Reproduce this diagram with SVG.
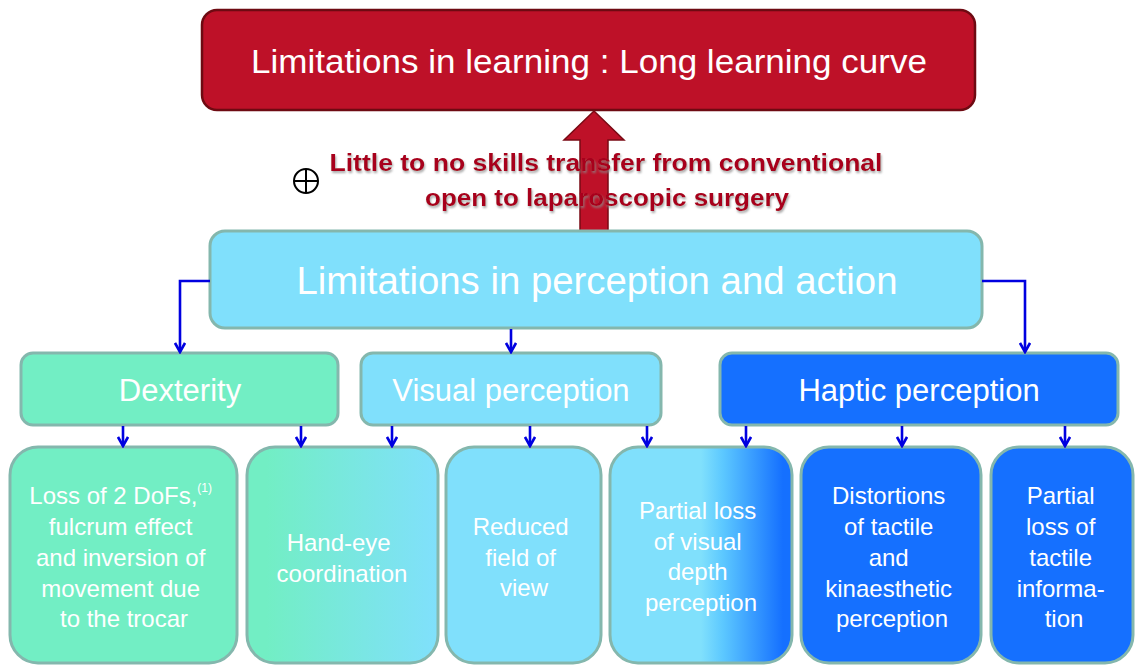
<svg xmlns="http://www.w3.org/2000/svg" width="1135" height="666" viewBox="0 0 1135 666">
  <style>
    .lbl { font-family: "Liberation Sans", Arial, sans-serif; fill: #ffffff; text-anchor: middle; }
    .box { stroke: #84B7AD; stroke-width: 3; }
    .mint { fill: #72EEC4; }
    .cyan { fill: #80E0FC; }
    .blue { fill: #1570FF; }
    .conn { fill: none; stroke: #0000E0; stroke-width: 2.6; marker-end: url(#arr); }
    .sub { font-family: "Liberation Sans", Arial, sans-serif; font-weight: bold; fill: #A8001C; text-anchor: middle; font-size: 23px; }
  </style>
  <defs>
    <marker id="arr" viewBox="0 0 12 12" refX="10" refY="6" markerWidth="12" markerHeight="12" markerUnits="userSpaceOnUse" orient="auto">
      <path d="M1,1 L10,6 L1,11" fill="none" stroke="#0000E0" stroke-width="2.6" stroke-linejoin="miter"/>
    </marker>
    <linearGradient id="gMintCyan" x1="0" y1="0" x2="1" y2="0">
      <stop offset="0.1" stop-color="#72EEC4"/>
      <stop offset="1" stop-color="#80E0FC"/>
    </linearGradient>
    <linearGradient id="gCyanBlue" x1="0" y1="0" x2="1" y2="0">
      <stop offset="0.5" stop-color="#80E0FC"/>
      <stop offset="0.62" stop-color="#5CC8FF"/>
      <stop offset="0.95" stop-color="#1570FF"/>
    </linearGradient>
    <filter id="txtShadow" x="-5%" y="-30%" width="110%" height="160%">
      <feDropShadow dx="1" dy="2" stdDeviation="1.2" flood-color="#8a8a8a" flood-opacity="0.75"/>
    </filter>
  </defs>

  <!-- top: learning limitations -->
  <g id="learning">
    <rect x="202" y="10" width="773" height="100" rx="15" fill="#BE1128" stroke="#6E0A12" stroke-width="2.5"/>
    <text class="lbl" x="589" y="73" font-size="33" textLength="676" lengthAdjust="spacingAndGlyphs">Limitations in learning : Long learning curve</text>
  </g>

  <!-- upward arrow from perception/action to learning -->
  <g id="transfer-arrow">
    <path d="M580,232 L580,140 L564,140 L594,111 L624,140 L608,140 L608,232 Z" fill="#BE1128" stroke="#7A0A14" stroke-width="1.5"/>
  </g>

  <g id="transfer-note">
    <text class="sub" x="606" y="171" textLength="553" lengthAdjust="spacingAndGlyphs" filter="url(#txtShadow)">Little to no skills transfer from conventional</text>
    <text class="sub" x="607" y="206" textLength="364" lengthAdjust="spacingAndGlyphs" filter="url(#txtShadow)">open to laparoscopic surgery</text>
    <g fill="none" stroke="#000" stroke-width="2">
      <circle cx="306" cy="181" r="12"/>
      <line x1="294" y1="181" x2="318" y2="181"/>
      <line x1="306" y1="169" x2="306" y2="193"/>
    </g>
  </g>

  <!-- perception and action -->
  <g id="perception-action">
    <rect class="box cyan" x="210" y="231" width="772" height="97" rx="15"/>
    <text class="lbl" x="597" y="294" font-size="38" textLength="601" lengthAdjust="spacingAndGlyphs">Limitations in perception and action</text>
  </g>

  <!-- second row -->
  <g id="dexterity">
    <rect class="box mint" x="21" y="353" width="317" height="72" rx="12"/>
    <text class="lbl" x="180" y="401" font-size="31">Dexterity</text>
  </g>
  <g id="visual">
    <rect class="box cyan" x="361" y="353" width="300" height="72" rx="12"/>
    <text class="lbl" x="511" y="401" font-size="31">Visual  perception</text>
  </g>
  <g id="haptic">
    <rect class="box blue" x="720" y="353" width="398" height="72" rx="12"/>
    <text class="lbl" x="919" y="401" font-size="31">Haptic perception</text>
  </g>

  <!-- third row -->
  <g id="dofs">
    <rect class="box mint" x="10" y="447" width="227" height="216" rx="28"/>
    <text class="lbl" font-size="24">
      <tspan x="124" y="504">Loss of 2 DoFs,<tspan font-size="12" dy="-12">(1)</tspan></tspan>
      <tspan x="124" y="535">fulcrum effect</tspan>
      <tspan x="124" y="566">and inversion of</tspan>
      <tspan x="124" y="597">movement due</tspan>
      <tspan x="124" y="627">to the trocar</tspan>
    </text>
  </g>
  <g id="hand-eye">
    <rect class="box" fill="url(#gMintCyan)" x="247" y="447" width="191" height="216" rx="28"/>
    <text class="lbl" font-size="24">
      <tspan x="342" y="551">Hand-eye</tspan>
      <tspan x="342" y="582">coordination</tspan>
    </text>
  </g>
  <g id="field-of-view">
    <rect class="box cyan" x="446" y="447" width="155" height="216" rx="28"/>
    <text class="lbl" font-size="24">
      <tspan x="524" y="535">Reduced</tspan>
      <tspan x="524" y="566">field of</tspan>
      <tspan x="524" y="596">view</tspan>
    </text>
  </g>
  <g id="depth">
    <rect class="box" fill="url(#gCyanBlue)" x="610" y="447" width="182" height="216" rx="28"/>
    <text class="lbl" font-size="24">
      <tspan x="701" y="519">Partial loss</tspan>
      <tspan x="701" y="550">of visual</tspan>
      <tspan x="701" y="580">depth</tspan>
      <tspan x="701" y="611">perception</tspan>
    </text>
  </g>
  <g id="distortions">
    <rect class="box blue" x="801" y="447" width="180" height="216" rx="28"/>
    <text class="lbl" font-size="24">
      <tspan x="892" y="504">Distortions</tspan>
      <tspan x="892" y="535">of tactile</tspan>
      <tspan x="892" y="566">and</tspan>
      <tspan x="892" y="597">kinaesthetic</tspan>
      <tspan x="892" y="627">perception</tspan>
    </text>
  </g>
  <g id="tactile">
    <rect class="box blue" x="991" y="447" width="142" height="216" rx="28"/>
    <text class="lbl" font-size="24">
      <tspan x="1064" y="504">Partial</tspan>
      <tspan x="1064" y="535">loss of</tspan>
      <tspan x="1064" y="566">tactile</tspan>
      <tspan x="1064" y="597">informa-</tspan>
      <tspan x="1064" y="627">tion</tspan>
    </text>
  </g>

  <!-- connectors -->
  <g id="connectors">
    <path class="conn" d="M210,281 H180 V352"/>
    <path class="conn" d="M511,329 V352"/>
    <path class="conn" d="M982,281 H1025 V352"/>
    <path class="conn" d="M123,426 V446"/>
    <path class="conn" d="M301,426 V446"/>
    <path class="conn" d="M392,426 V446"/>
    <path class="conn" d="M530,426 V446"/>
    <path class="conn" d="M647,426 V446"/>
    <path class="conn" d="M746,426 V446"/>
    <path class="conn" d="M902,426 V446"/>
    <path class="conn" d="M1065,426 V446"/>
  </g>
</svg>
